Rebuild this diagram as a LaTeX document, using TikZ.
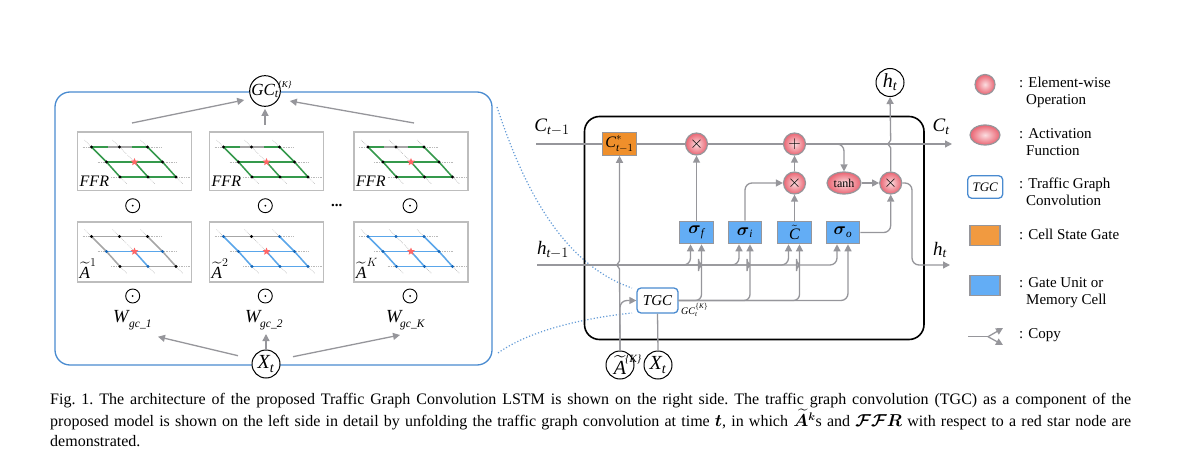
\documentclass[tikz,border=0pt]{standalone}
\usepackage{amsmath}
\usepackage{fontspec}
\setmainfont{Liberation Serif}
\usetikzlibrary{arrows.meta,shapes.geometric}

\definecolor{linegray}{HTML}{96969B}
\definecolor{panelgray}{HTML}{BDBDBD}
\definecolor{tgcblue}{HTML}{4A8BD0}
\definecolor{gateblue}{HTML}{63ADF5}
\definecolor{stateorange}{HTML}{EF8F2B}
\definecolor{edgegreen}{HTML}{35994C}
\definecolor{edgeblue}{HTML}{5AA6EA}
\definecolor{nodeblue}{HTML}{1566B8}
\definecolor{opinner}{HTML}{FBDDE0}
\definecolor{opouter}{HTML}{EA6472}

\tikzset{
  flow/.style={draw=linegray,line width=1.3pt},
  flowarrow/.style={flow,-{Triangle[length=7pt,width=7pt]}},
  roundflow/.style={flowarrow,rounded corners=7pt},
  gate/.style={draw=linegray,line width=1.1pt,fill=gateblue,minimum width=33.5pt,minimum height=22.5pt,inner sep=0pt,font=\fontsize{16}{16}\selectfont},
  opnode/.style={circle,draw=linegray,line width=1.2pt,inner color=opinner,outer color=opouter,minimum size=#1,inner sep=0pt,font=\fontsize{19}{19}\selectfont},
  opnode/.default=22pt,
  actnode/.style={ellipse,draw=linegray,line width=1.2pt,inner color=opinner,outer color=opouter,inner sep=0pt},
  statenode/.style={circle,draw=black,line width=1pt,fill=white,minimum size=28pt,inner sep=0pt,font=\fontsize{20}{20}\selectfont\itshape},
  tgcbox/.style={draw=tgcblue,line width=1.3pt,rounded corners=4pt,fill=white,inner sep=0pt,font=\fontsize{15}{15}\selectfont\itshape},
  panel/.style={draw=panelgray,line width=1.5pt,minimum width=114pt,inner sep=0pt,anchor=north west},
  dotprod/.style={circle,draw=black,line width=.9pt,minimum size=14pt,inner sep=0pt,path picture={\fill (path picture bounding box.center) circle (1pt);}},
  gridnode/.style={circle,fill=#1,minimum size=3.4pt,inner sep=0pt},
  gridstar/.style={star,star points=5,star point ratio=2.2,fill=red!60!white,minimum size=8pt,inner sep=0pt},
  road/.style={draw=gray!55,line width=.7pt,densely dotted},
  legtext/.style={anchor=west,align=left,font=\fontsize{15}{17}\selectfont,inner sep=0pt},
  linkdots/.style={draw=tgcblue!85!white,line width=1.2pt,dash pattern=on 1.2pt off 2pt},
  wlab/.style={anchor=west,inner sep=0pt,font=\fontsize{18.5}{20}\selectfont\itshape},
  wsub/.style={anchor=west,inner sep=0pt,font=\fontsize{11.5}{12}\selectfont\itshape},
  biglab/.style={font=\fontsize{19}{19}\selectfont},
}

% small hop of a rising line over a crossing line
\newcommand{\hopat}[2]{-- (#1,#2+4) .. controls (#1,#2+1) and (#1-3,#2+2) .. (#1-3,#2) .. controls (#1-3,#2-2) and (#1,#2-1) .. (#1,#2-4)}

% one road grid: name prefix, x, y, height of the panel, what is drawn on it
\newcommand{\roadgrid}[5]{
  \begin{scope}[shift={(#2,#3)},name prefix=#1]
    \node[panel,minimum height=#4] (box) at (0,0) {};
    \foreach \rowy/\rowx in {15.5/15,30.5/30,45.5/43.5}{
      \draw[road] (\rowx-9,\rowy) -- (\rowx+70,\rowy);
      \foreach \colno in {0,1,2}
        \draw[road] (\rowx+28*\colno-7,\rowy-7) -- (\rowx+28*\colno+7,\rowy+7);
    }
    \coordinate (t1) at (15,15.5); \coordinate (t2) at (43,15.5); \coordinate (t3) at (71,15.5);
    \coordinate (m1) at (30,30.5); \coordinate (m2) at (58,30.5); \coordinate (m3) at (86,30.5);
    \coordinate (b1) at (43.5,45.5); \coordinate (b2) at (71.5,45.5); \coordinate (b3) at (99.5,45.5);
    #5
    \node[gridstar] (star) at (m2) {};
  \end{scope}
}
% edges of a grid in one colour
\newcommand{\edges}[2]{\foreach \ea/\eb in {#2} \draw[#1,line width=1.5pt] (\ea) -- (\eb);}
\newcommand{\gridnodes}[2]{\foreach \ea in {#2} \node[gridnode=#1] at (\ea) {};}

\newcommand{\ffrgrid}{
  \edges{gray!70}{t1/t3}
  \edges{edgegreen}{t1/m1,m1/b1,t3/m3,m3/b3,m2/b2,m1/m3,b1/b3}
  \draw[edgegreen,line width=1.5pt] (t1) -- ++(16,0);
  \draw[edgegreen,line width=1.5pt] (t3) -- ++(-16,0);
  \gridnodes{black}{t1,t2,t3,m1,m3,b1,b2,b3}
  \node[font=\fontsize{16}{16}\selectfont\itshape,anchor=west,inner sep=0pt] (lab) at (3,50) {FFR};
}
\newcommand{\tildelab}[1]{\node[font=\fontsize{17}{17}\selectfont,anchor=west,inner sep=0pt] (lab) at (3,47.5) {$\widetilde{\textit{A}}^{#1}$};}

\begin{document}
\begin{tikzpicture}[x=1pt,y=-1pt]
\useasboundingbox (0,0) rectangle (1188,465);

% left side: unfolded graph convolution
\node[draw=tgcblue,line width=1.3pt,rounded corners=15pt,minimum width=437pt,minimum height=273pt,inner sep=0pt] (tgcbig) at (273.5,228.5) {};

\roadgrid{fa-}{76.5}{131.5}{58.5pt}{\ffrgrid}
\roadgrid{fb-}{208.5}{131.5}{58.5pt}{\ffrgrid}
\roadgrid{fc-}{353}{131.5}{58.5pt}{\ffrgrid}

\roadgrid{aa-}{76.5}{221}{60pt}{
  \edges{gray!70}{t1/t3,t1/m1,m1/b1,t3/m3,m3/b3,b1/b3}
  \edges{edgeblue}{m1/m3,m2/b2}
  \gridnodes{black}{t1,t2,t3,b1,b3}
  \gridnodes{nodeblue}{m1,m3,b2}
  \tildelab{1}
}
\roadgrid{ab-}{208.5}{221}{60pt}{
  \edges{gray!70}{t1/t3}
  \edges{edgeblue}{t1/m1,m1/b1,t3/m3,m3/b3,m1/m3,m2/b2,b1/b3}
  \gridnodes{black}{t2}
  \gridnodes{nodeblue}{t1,t3,m1,m3,b1,b2,b3}
  \tildelab{2}
}
\roadgrid{ac-}{353}{221}{60pt}{
  \edges{edgeblue}{t1/t3,t1/m1,m1/b1,t3/m3,m3/b3,m1/m3,m2/b2,b1/b3}
  \gridnodes{nodeblue}{t1,t2,t3,m1,m3,b1,b2,b3}
  \tildelab{K}
}

\node[dotprod] (doa) at (132.7,205.7) {};
\node[dotprod] (dob) at (265.3,205.7) {};
\node[dotprod] (doc) at (410,205.7) {};
\node[font=\fontsize{15}{15}\selectfont\bfseries] (more) at (336.7,205.7) {...};
\node[dotprod] (dpa) at (132.7,296) {};
\node[dotprod] (dpb) at (265.3,296) {};
\node[dotprod] (dpc) at (410,296) {};

\node[wlab] (wa) at (113,317) {W};
\node[wsub] (wasub) at (129,325) {gc\_1};
\node[wlab] (wb) at (245,317) {W};
\node[wsub] (wbsub) at (260,325) {gc\_2};
\node[wlab] (wc) at (386,317) {W};
\node[wsub] (wcsub) at (400,325) {gc\_K};

\node[statenode,font=\fontsize{17}{17}\selectfont\itshape] (gc) at (265,91) {GC$_{\textit{t}}$};
\node[anchor=west,inner sep=0pt,font=\fontsize{9}{9}\selectfont\itshape] (gcsup) at (278,85) {\{K\}};
\node[statenode] (xleft) at (266,364) {X$_{\textit{t}}$};

\coordinate (gcia) at (132,123);
\coordinate (gcib) at (265,125);
\coordinate (gcic) at (414,123);
\coordinate (xoa) at (238,355.7);
\coordinate (xob) at (293,356.7);
\coordinate (wta) at (158,336.7);
\coordinate (wtb) at (266,334);
\coordinate (wtc) at (400,335);
\draw[flowarrow] (gcia) -- ([shift={(-5,9)}]gc.west);
\draw[flowarrow] (gcib) -- ([yshift=-2pt]gc.south);
\draw[flowarrow] (gcic) -- ([shift={(9,10)}]gc.east);
\draw[flowarrow] (xoa) -- (wta);
\draw[flowarrow] (xleft.north) -- (wtb);
\draw[flowarrow] (xob) -- (wtc);

% dotted links between the two sides
\coordinate (lka) at (497,107);
\coordinate (lkb) at (632,288);
\coordinate (lkc) at (498,353);
\coordinate (lkd) at (632,313);
\draw[linkdots] (lka) .. controls (518,170) and (555,262) .. (lkb);
\draw[linkdots] (lkc) .. controls (530,330) and (585,318) .. (lkd);

% right side: the cell
\node[draw=black,line width=1.6pt,rounded corners=15pt,minimum width=339.5pt,minimum height=223pt,inner sep=0pt] (cell) at (754.25,228) {};

\node[gate,fill=stateorange,minimum width=34pt] (cstar) at (619.5,144) {$\textit{C}^{*}_{\textit{t}-1}$};
\node[opnode] (mulf) at (696.5,144) {$\times$};
\node[opnode] (plus) at (794.5,144) {$+$};
\node[opnode] (muli) at (794.5,183) {$\times$};
\node[actnode,minimum width=34pt,minimum height=22pt,font=\fontsize{12}{12}\selectfont] (tanh) at (844,183) {tanh};
\node[opnode] (mulh) at (890.7,183) {$\times$};
\node[gate] (sf) at (696.5,232.5) {$\boldsymbol{\sigma}_{\textit{f}}$};
\node[gate] (si) at (745,232.5) {$\boldsymbol{\sigma}_{\textit{i}}$};
\node[gate] (sc) at (794.5,232.5) {$\tilde{\textit{C}}$};
\node[gate] (so) at (843,232.5) {$\boldsymbol{\sigma}_{\textit{o}}$};
\node[tgcbox,minimum width=41pt,minimum height=25pt] (tgc) at (657.5,300.5) {TGC};
\node[statenode] (ht) at (890,82.5) {h$_{\textit{t}}$};
\node[statenode] (atilde) at (620,365) {$\widetilde{\textit{A}}$};
\node[anchor=west,inner sep=0pt,font=\fontsize{11}{11}\selectfont\itshape] (asup) at (625,359) {\{K\}};
\node[statenode] (xright) at (658,365) {X$_{\textit{t}}$};

\coordinate (cin) at (536,144);
\coordinate (cout) at (952,144);
\coordinate (hin) at (537,265);
\coordinate (hout) at (950,265);
\coordinate (hturn) at (912,240);

\node[biglab] (clabin) at (552,127) {$\textit{C}_{\textit{t}-1}$};
\node[biglab] (clabout) at (941,127) {$\textit{C}_{\textit{t}}$};
\node[biglab] (hlabin) at (553,250) {$\textit{h}_{\textit{t}-1}$};
\node[biglab] (hlabout) at (940,250) {$\textit{h}_{\textit{t}}$};
\node[font=\fontsize{10}{10}\selectfont,anchor=west,inner sep=0pt] (gclab) at (681,310) {$\textit{GC}_{\textit{t}}^{\{\textit{K}\}}$};

\draw[flow] (cin) -- (cstar.west);
\draw[flow] (cstar.east) -- (mulf.west);
\draw[flow] (mulf.east) -- (plus.west);
\draw[flowarrow] (plus.east) -- (cout);
\draw[roundflow] (plus.east) -| (tanh.north);
\draw[flowarrow] (sf.north) -- (mulf.south);
\draw[roundflow] (si.north) |- (muli.west);
\draw[flowarrow] (sc.north) -- (muli.south);
\draw[flowarrow] (muli.north) -- (plus.south);
\draw[flowarrow] (tanh.east) -- (mulh.west);
\draw[roundflow] (so.east) -| (mulh.south);
\draw[flowarrow] (mulh.north) \hopat{890.7}{144} -- (ht.south);
\draw[roundflow] (mulh.east) -| (hturn) |- (hout);

% h line and its branches into the gates
\foreach \gate in {sf,si,sc,so}
  \draw[roundflow] (hin) -| ([xshift=-6pt]\gate.south);
% GC line and its branches into the gates
\foreach \gate/\gx in {sf/701.5,si/750,sc/799.5}
  \draw[flowarrow,rounded corners=6pt] (tgc.east) -- (\gx,300.5) \hopat{\gx}{265} -- ([xshift=5pt]\gate.south);
\draw[roundflow] (tgc.east) -| ([xshift=5pt]so.south);

\draw[flowarrow] (atilde.north) \hopat{619.5}{265} -- (cstar.south);
\draw[roundflow] (atilde.north) |- (tgc.west);
\draw[flow] (xright.north) -- (tgc.south);

% legend
\node[opnode=20pt] (legop) at (985,84.5) {};
\node[actnode,minimum width=30pt,minimum height=20pt] (legact) at (985,135) {};
\node[tgcbox,minimum width=35pt,minimum height=22.5pt,font=\fontsize{13}{13}\selectfont\itshape] (legtgc) at (985.2,187) {TGC};
\node[gate,fill=stateorange!90!white,minimum width=30pt,minimum height=19.5pt] (legstate) at (985,235.5) {};
\node[gate,minimum width=30pt,minimum height=19.5pt] (leggate) at (985,285.5) {};
\coordinate (cpa) at (968,336.7);
\coordinate (cpb) at (988,336.7);
\coordinate (cpc) at (1003,328);
\coordinate (cpd) at (1003,345);
\draw[flow] (cpa) -- (cpb);
\draw[flowarrow] (cpb) -- (cpc);
\draw[flowarrow] (cpb) -- (cpd);

\node[legtext] (lta) at (1019,92.5) {: Element-wise\\\hspace{7pt}Operation};
\node[legtext] (ltb) at (1019,142) {: Activation\\\hspace{7pt}Function};
\node[legtext] (ltc) at (1019,192) {: Traffic Graph\\\hspace{7pt}Convolution};
\node[legtext] (ltd) at (1019,234) {: Cell State Gate};
\node[legtext] (lte) at (1019,292.5) {: Gate Unit or\\\hspace{7pt}Memory Cell};
\node[legtext] (ltf) at (1019,335) {: Copy};

% caption
\node[anchor=north west,inner sep=0pt,text width=1081pt,align=justify,font=\fontsize{16}{20}\selectfont\frenchspacing] (caption) at (50,393.5) {Fig. 1. The architecture of the proposed Traffic Graph Convolution LSTM is shown on the right side. The traffic graph convolution (TGC) as a component of the\linebreak proposed model is shown on the left side in detail by unfolding the traffic graph convolution at time $\boldsymbol{t}$, in which $\boldsymbol{\widetilde{A}^{k}}$s and $\boldsymbol{\mathcal{FF}R}$ with respect to a red star node are\linebreak demonstrated.};
\end{tikzpicture}
\end{document}
